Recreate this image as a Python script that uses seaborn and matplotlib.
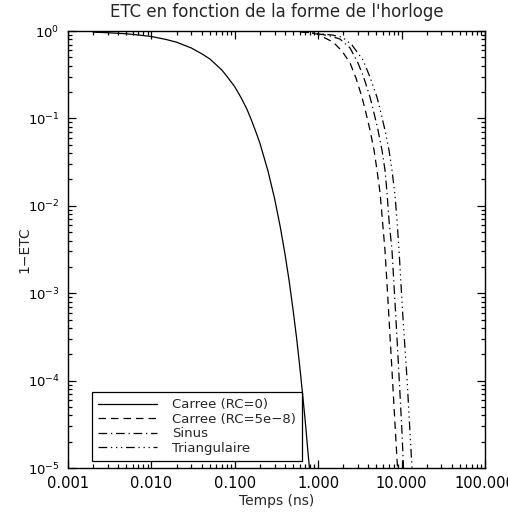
import matplotlib
matplotlib.use("Agg")
import matplotlib.pyplot as plt
import matplotlib.ticker as mticker
import numpy as np
import pandas as pd
import seaborn as sns

# Time axis (ns) and 1-ETC for each clock shape
t_carree0 = [0.002, 0.003, 0.005, 0.007, 0.01, 0.015, 0.02, 0.03, 0.04, 0.05,
             0.06, 0.07, 0.08, 0.1, 0.12, 0.14, 0.16, 0.18, 0.2, 0.25, 0.3,
             0.35, 0.4, 0.45, 0.5, 0.55, 0.6, 0.65, 0.7, 0.75, 0.785, 0.81]
y_carree0 = [0.97, 0.955, 0.93, 0.90, 0.865, 0.80, 0.745, 0.64, 0.55, 0.48,
             0.41, 0.357, 0.305, 0.23, 0.17, 0.127, 0.093, 0.069, 0.052,
             0.025, 0.0121, 5.8e-3, 2.8e-3, 1.35e-3, 6.4e-4, 3.1e-4, 1.47e-4,
             7.0e-5, 3.4e-5, 1.6e-5, 1.0e-5, 7.0e-6]

t_carree_rc = [0.605, 0.967, 1.505, 1.93, 2.41, 2.84, 3.35, 3.74, 4.18, 4.67,
               5.07, 5.51, 5.82, 6.32, 6.68, 7.06, 7.46, 7.89, 8.33, 8.57,
               8.93, 9.1]
y_carree_rc = [0.987, 0.924, 0.748, 0.59, 0.43, 0.289, 0.175, 0.115, 0.0734,
               0.0434, 0.0256, 0.0143, 7.8e-3, 3.1e-3, 1.3e-3, 5.15e-4,
               2.05e-4, 8.1e-5, 3.2e-5, 2.0e-5, 1.0e-5, 6.0e-6]

t_sinus = [0.605, 0.967, 1.385, 1.825, 2.41, 3.00, 3.54, 4.18, 4.67, 5.21,
           5.82, 6.32, 6.68, 7.06, 7.67, 8.11, 8.57, 8.93, 9.31, 9.70, 10.11,
           10.54, 10.7]
y_sinus = [0.987, 0.936, 0.876, 0.81, 0.639, 0.43, 0.289, 0.175, 0.115,
           0.0734, 0.0434, 0.0256, 0.0143, 6.84e-3, 3.1e-3, 1.23e-3, 4.89e-4,
           2.4e-4, 1.15e-4, 5.48e-5, 2.55e-5, 9.9e-6, 6.0e-6]

t_tri = [0.605, 0.967, 1.464, 1.93, 2.54, 3.445, 4.18, 5.07, 5.66, 6.32,
         7.06, 7.67, 8.33, 8.81, 9.31, 9.84, 10.39, 10.98, 11.61, 12.10,
         12.61, 12.97, 13.33, 13.5]
y_tri = [0.987, 0.936, 0.900, 0.854, 0.691, 0.465, 0.297, 0.175, 0.115,
         0.0734, 0.0434, 0.0256, 0.0132, 6.84e-3, 3.1e-3, 1.26e-3, 5.15e-4,
         2.34e-4, 1.06e-4, 5.2e-5, 2.55e-5, 1.59e-5, 9.9e-6, 6.0e-6]

labels = ["Carree (RC=0)", "Carree (RC=5e\u22128)", "Sinus", "Triangulaire"]
x_ticks = [0.001, 0.01, 0.1, 1.0, 10.0, 100.0]
x_ticklabels = ["0.001", "0.010", "0.100", "1.000", "10.000", "100.000"]
y_ticks = [1e-5, 1e-4, 1e-3, 1e-2, 1e-1, 1e0]
y_ticklabels = [r"$10^{-5}$", r"$10^{-4}$", r"$10^{-3}$", r"$10^{-2}$",
                r"$10^{-1}$", r"$10^{0}$"]

sns.set_style("ticks")
plt.rcParams["font.family"] = ["DejaVu Sans"]

series = [(t_carree0, y_carree0), (t_carree_rc, y_carree_rc),
          (t_sinus, y_sinus), (t_tri, y_tri)]
dash_styles = ["-", (0, (6, 4)), (0, (7, 3, 1, 3)),
               (0, (7, 3, 1, 3, 1, 3, 1, 3))]

fig = plt.figure(figsize=(5.08, 5.12), dpi=100)
ax = fig.add_axes([68 / 508, 1 - 468 / 512, 417 / 508, 437 / 512])

for (tx, ty), lab, ls in zip(series, labels, dash_styles):
    df = pd.DataFrame({"t": tx, "y": ty})
    sns.lineplot(data=df, x="t", y="y", ax=ax, color="black", lw=0.9,
                 linestyle=ls, label=lab, estimator=None, sort=False)

ax.set_xscale("log")
ax.set_yscale("log")
ax.set_xlim(1e-3, 100)
ax.set_ylim(1e-5, 1.0)

ax.set_xticks(x_ticks)
ax.set_xticklabels(x_ticklabels)
ax.set_yticks(y_ticks)
ax.set_yticklabels(y_ticklabels)
ax.xaxis.set_minor_locator(mticker.LogLocator(base=10, subs=np.arange(2, 10), numticks=20))
ax.yaxis.set_minor_locator(mticker.LogLocator(base=10, subs=np.arange(2, 10), numticks=20))
ax.xaxis.set_minor_formatter(mticker.NullFormatter())
ax.yaxis.set_minor_formatter(mticker.NullFormatter())

for side in ax.spines.values():
    side.set_visible(True)
    side.set_linewidth(1.0)
    side.set_color("black")

ax.tick_params(which="both", direction="in", top=True, right=True,
               color="black", width=0.9, labelcolor="black")
ax.tick_params(axis="x", labelsize=10.5)
ax.tick_params(axis="y", labelsize=9.5)
ax.tick_params(which="major", length=6, pad=6)
ax.tick_params(which="minor", length=3)

ax.set_xlabel("Temps (ns)", fontsize=10, labelpad=2)
ax.set_ylabel("1\u2212ETC", fontsize=10, labelpad=-3)
ax.set_title("ETC en fonction de la forme de l'horloge", fontsize=12, pad=10)

leg = ax.legend(loc="lower left", bbox_to_anchor=(0.0576, 0.016),
                frameon=True, fancybox=False, fontsize=9.5, handlelength=4.5,
                borderpad=0.45, labelspacing=0.12, handletextpad=1.1,
                borderaxespad=0.0)
leg.get_frame().set_edgecolor("black")
leg.get_frame().set_linewidth(0.9)
leg.get_frame().set_alpha(1)

fig.savefig("out.png", dpi=100)
